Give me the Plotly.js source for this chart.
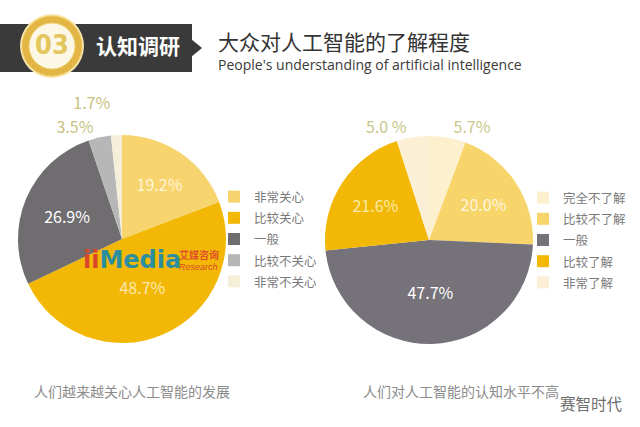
<!DOCTYPE html>
<html><head><meta charset="utf-8">
<script src="https://cdn.plot.ly/plotly-3.0.1.min.js"></script>
<style>html,body{margin:0;padding:0;background:#fff}#chart{width:640px;height:427px}.textline{display:none}</style>
</head><body><div id="chart"></div>
<script>
// Data
const leftLabels = ['非常关心','比较关心','一般','比较不关心','非常不关心'];
const leftValues = [19.2, 48.7, 26.9, 3.5, 1.7];
const leftText = ['19.2%','48.7%','26.9%','3.5%','1.7%'];
const rightLabels = ['完全不了解','比较不了解','一般','比较了解','非常了解'];
const rightValues = [5.7, 20.0, 47.7, 21.6, 5.0];
const rightText = ['5.7%','20.0%','47.7%','21.6%','5.0 %'];

const W = 640, H = 427;
const px = x => x / W;
const py = y => (H - y) / H;
const CJK = '"Noto Sans CJK SC", "Noto Sans", sans-serif';

const leftColors = ['#F7D46E','#F3B806','#706D70','#B8B7B7','#F5EFDA'];
const rightColors = ['#FDF0CF','#F8D56A','#76727A','#F3B805','#FBEFD6'];

const legendLabel = l => `<span style="font-size:12.5px">${l}</span>`;

const traces = [
  {
    type:'pie', labels:leftLabels.map(legendLabel), values:leftValues, text:leftText,
    textinfo:'text', sort:false, direction:'clockwise', rotation:0,
    marker:{colors:leftColors, line:{color:'#ffffff', width:0}},
    textposition:['inside','inside','inside','outside','outside'],
    insidetextorientation:'horizontal',
    textfont:{family:CJK, size:16, color:['#FFF4D6','#FBE9B0','#ffffff','#C8C27F','#C8C27F']},
    outsidetextfont:{family:CJK, size:16, color:'#C8C27F'},
    domain:{x:[px(17), px(227)], y:[py(343), py(135)]},
    legend:'legend', legendgroup:'left', hoverinfo:'text'
  },
  {
    type:'pie', labels:rightLabels.map(legendLabel), values:rightValues, text:rightText,
    textinfo:'text', sort:false, direction:'clockwise', rotation:0,
    marker:{colors:rightColors, line:{color:'#ffffff', width:0}},
    textposition:['outside','inside','inside','inside','outside'],
    insidetextorientation:'horizontal',
    textfont:{family:CJK, size:16, color:['#C9C78A','#FFF6DE','#ffffff','#FAEAA8','#C9C78A']},
    outsidetextfont:{family:CJK, size:16, color:'#C9C78A'},
    domain:{x:[px(325), px(533)], y:[py(344), py(136)]},
    legend:'legend2', legendgroup:'right', hoverinfo:'text'
  }
];

const shapes = [
  {type:'rect', xref:'paper', yref:'paper', x0:px(0), x1:px(192), y0:py(72), y1:py(24),
   fillcolor:'#3B3A3A', line:{width:0}, layer:'below'},
  {type:'path', xref:'paper', yref:'paper',
   path:`M ${px(191)} ${py(39)} L ${px(202)} ${py(48)} L ${px(191)} ${py(57)} Z`,
   fillcolor:'#3B3A3A', line:{width:0}},
  {type:'circle', xref:'paper', yref:'paper', x0:px(20), x1:px(84), y0:py(78), y1:py(14),
   fillcolor:'#F7E7B0', line:{width:0}},
  {type:'circle', xref:'paper', yref:'paper', x0:px(22), x1:px(82), y0:py(76), y1:py(16),
   fillcolor:'#E3B544', line:{color:'#EFCB63', width:1}},
  {type:'circle', xref:'paper', yref:'paper', x0:px(29), x1:px(75), y0:py(69), y1:py(23),
   fillcolor:'#FDF8E6', line:{color:'#F0D37A', width:1}}
];

const ann = (text, x, y, xa, font) => ({text, x:px(x), y:py(y), xref:'paper', yref:'paper',
  xanchor:xa, yanchor:'middle', showarrow:false, font});

const annotations = [
  ann('<b>03</b>', 52, 44, 'center', {family:'"Liberation Sans Narrow", "DejaVu Sans Condensed", sans-serif', size:27, color:'#E4C65E'}),
  ann('<b>认知调研</b>', 94, 45, 'left', {family:CJK, size:21, color:'#ffffff'}),
  ann('大众对人工智能的了解程度', 216, 41, 'left', {family:CJK, size:21, color:'#333333'}),
  ann("People's understanding of artificial intelligence", 216, 64.5, 'left', {family:'"Open Sans", sans-serif', size:14, color:'#3A3A3A'}),
  ann('人们越来越关心人工智能的发展', 32, 391, 'left', {family:CJK, size:14, color:'#8C8C8C'}),
  ann('人们对人工智能的认知水平不高', 361, 391, 'left', {family:CJK, size:14, color:'#8C8C8C'}),
  ann('赛智时代', 558, 403, 'left', {family:CJK, size:15.5, color:'#6E6E6E'}),
  ann('<b><span style="color:#D9472B">ii</span><span style="color:#2B8FA0">Media</span></b>', 81, 260, 'left',
      {family:'"DejaVu Sans", sans-serif', size:24}),
  ann('<b>艾媒咨询</b>', 177, 254, 'left', {family:CJK, size:10, color:'#E0502B'}),
  ann('<i>Research</i>', 177, 267, 'left', {family:'"Liberation Sans", sans-serif', size:9, color:'#D9472B'})
];

const legendFont = {family:CJK, size:14, color:'#7A7A7A'};
const layout = {
  width:W, height:H, margin:{l:0,r:0,t:0,b:0, autoexpand:false},
  paper_bgcolor:'#ffffff', plot_bgcolor:'#ffffff',
  showlegend:true,
  legend:{x:px(214), y:py(181), xanchor:'left', yanchor:'top', font:legendFont,
          bgcolor:'rgba(0,0,0,0)', itemwidth:30, traceorder:'normal'},
  legend2:{x:px(523), y:py(182), xanchor:'left', yanchor:'top', font:legendFont,
          bgcolor:'rgba(0,0,0,0)', itemwidth:30, traceorder:'normal'},
  shapes, annotations
};

Plotly.newPlot('chart', traces, layout, {displayModeBar:false, staticPlot:true});
</script>
</body></html>
